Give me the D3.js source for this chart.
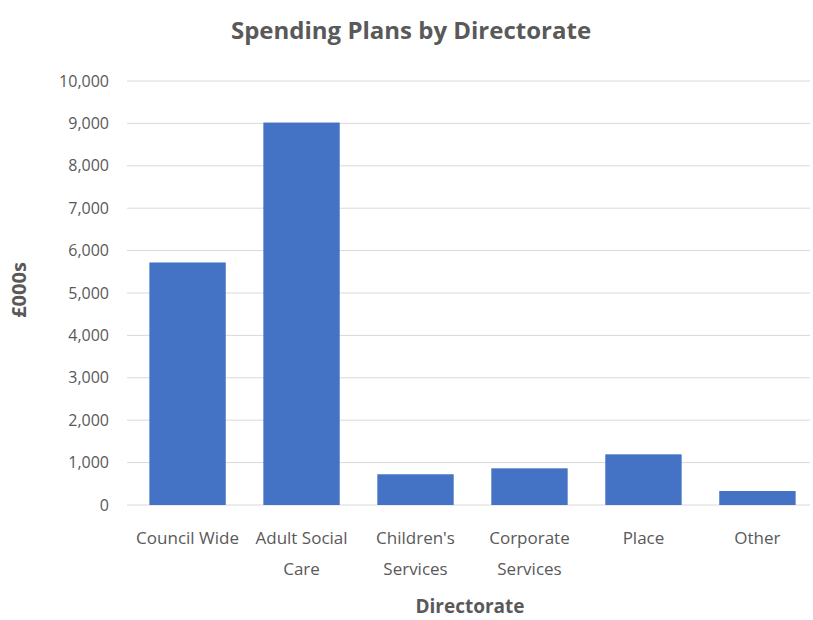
<!DOCTYPE html>
<html>
<head>
<meta charset="utf-8">
<script src="https://cdn.jsdelivr.net/npm/d3@7"></script>
<style>
  body { margin: 0; background: #fff; }
  text { font-family: "Open Sans", sans-serif; }
</style>
</head>
<body>
<svg width="813" height="620"></svg>
<script>
const categories = [["Council Wide"], ["Adult Social", "Care"], ["Children's", "Services"],
  ["Corporate", "Services"], ["Place"], ["Other"]];
const values = [5720, 9020, 725, 865, 1195, 330];
const yTicks = [0, 1000, 2000, 3000, 4000, 5000, 6000, 7000, 8000, 9000, 10000];

const svg = d3.select("svg"),
  width = +svg.attr("width"),
  height = +svg.attr("height");

const margin = {top: 81, right: -2, bottom: 115, left: 130};

const x = d3.scaleBand()
  .domain(d3.range(values.length))
  .range([margin.left, width - margin.right])
  .paddingInner(0.33)
  .paddingOuter(0.17);

const y = d3.scaleLinear()
  .domain([0, 10000])
  .range([height - margin.bottom, margin.top]);

// gridlines
svg.append("g")
  .selectAll("line")
  .data(yTicks)
  .join("line")
  .attr("x1", 127)
  .attr("x2", 810)
  .attr("y1", d => y(d))
  .attr("y2", d => y(d))
  .attr("stroke", "#d9d9d9")
  .attr("stroke-width", 1);

// bars
svg.append("g")
  .attr("fill", "#4472c4")
  .selectAll("rect")
  .data(values)
  .join("rect")
  .attr("x", (d, i) => x(i))
  .attr("y", d => y(d))
  .attr("width", x.bandwidth())
  .attr("height", d => y(0) - y(d));

// y axis
const yAxis = svg.append("g")
  .attr("transform", `translate(${margin.left - 18},0)`)
  .call(d3.axisLeft(y).tickValues(yTicks).tickFormat(d3.format(",")).tickSize(0));
yAxis.select(".domain").remove();
yAxis.selectAll("text")
  .attr("font-size", 16)
  .attr("fill", "#595959")
  .style("font-family", "\"Open Sans\", sans-serif");

// x axis labels (two lines)
const xLab = svg.append("g")
  .selectAll("text")
  .data(categories)
  .join("text")
  .attr("x", (d, i) => x(i) + x.bandwidth() / 2)
  .attr("y", height - margin.bottom + 39)
  .attr("text-anchor", "middle")
  .attr("font-size", 17)
  .attr("fill", "#595959");
xLab.selectAll("tspan")
  .data(d => d)
  .join("tspan")
  .attr("x", function() { return this.parentNode.getAttribute("x"); })
  .attr("dy", (d, i) => i === 0 ? 0 : 31)
  .text(d => d);

// title
svg.append("text")
  .attr("x", 411)
  .attr("y", 39)
  .attr("text-anchor", "middle")
  .attr("font-size", 24)
  .attr("font-weight", "bold")
  .attr("fill", "#595959")
  .text("Spending Plans by Directorate");

// axis titles
svg.append("text")
  .attr("x", 470)
  .attr("y", 613)
  .attr("text-anchor", "middle")
  .attr("font-size", 19)
  .attr("font-weight", "bold")
  .attr("fill", "#595959")
  .text("Directorate");

svg.append("text")
  .attr("transform", "translate(26,290) rotate(-90)")
  .attr("text-anchor", "middle")
  .attr("font-size", 20)
  .attr("font-weight", "bold")
  .attr("fill", "#595959")
  .text("£000s");
</script>
</body>
</html>
